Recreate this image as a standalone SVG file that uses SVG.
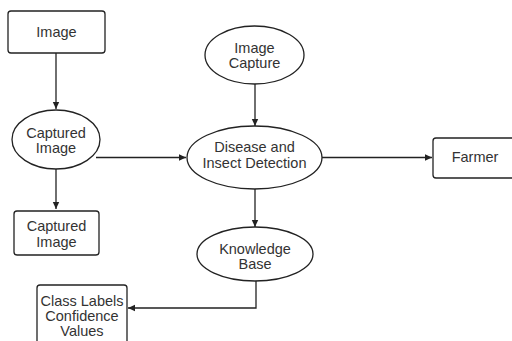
<svg xmlns="http://www.w3.org/2000/svg" width="512" height="341" viewBox="0 0 512 341">
<style>
.n{fill:#fff;stroke:#222;stroke-width:1.3}
.t{font-family:"Liberation Sans",Arial,sans-serif;font-size:14.5px;fill:#333;text-anchor:middle}
.c{fill:none;stroke:#222;stroke-width:1.3}
</style>
<defs>
<marker id="a" markerWidth="8" markerHeight="8" refX="7" refY="4" orient="auto" markerUnits="userSpaceOnUse">
<path d="M0,0.8 L7,4 L0,7.2 Z" fill="#222"/>
</marker>
</defs>
<rect width="512" height="341" fill="#fff"/>
<g id="connectors">
<path class="c" d="M56,53 V109" marker-end="url(#a)"/>
<path class="c" d="M56,169 V209" marker-end="url(#a)"/>
<path class="c" d="M96,157.5 H186" marker-end="url(#a)"/>
<path class="c" d="M255,84 V126" marker-end="url(#a)"/>
<path class="c" d="M322,157.5 H432" marker-end="url(#a)"/>
<path class="c" d="M255,189 V227" marker-end="url(#a)"/>
<path class="c" d="M256,281 V308 H128" marker-end="url(#a)"/>
</g>
<g id="image">
<rect class="n" x="8" y="11" width="97" height="42" rx="3"/>
<text class="t" x="56.5" y="37">Image</text>
</g>
<g id="captured-image-ellipse">
<ellipse class="n" cx="56" cy="139.5" rx="44" ry="29.5"/>
<text class="t" x="56" y="137.5">Captured</text>
<text class="t" x="56" y="153">Image</text>
</g>
<g id="captured-image-box">
<rect class="n" x="14" y="211" width="85" height="44" rx="3"/>
<text class="t" x="56.5" y="231">Captured</text>
<text class="t" x="56.5" y="246.5">Image</text>
</g>
<g id="image-capture">
<ellipse class="n" cx="254.5" cy="55" rx="49.5" ry="29"/>
<text class="t" x="254.5" y="52.5">Image</text>
<text class="t" x="254.5" y="68">Capture</text>
</g>
<g id="detection">
<ellipse class="n" cx="254.5" cy="157.5" rx="67.5" ry="31.5"/>
<text class="t" x="254.5" y="151.5">Disease and</text>
<text class="t" x="254.5" y="167.5">Insect Detection</text>
</g>
<g id="farmer">
<rect class="n" x="433" y="138" width="86" height="40" rx="3"/>
<text class="t" x="475" y="161.5">Farmer</text>
</g>
<g id="knowledge-base">
<ellipse class="n" cx="255" cy="254" rx="58" ry="27"/>
<text class="t" x="255" y="254">Knowledge</text>
<text class="t" x="255" y="269">Base</text>
</g>
<g id="class-labels">
<rect class="n" x="37" y="285" width="90" height="70" rx="3"/>
<text class="t" x="82" y="305.5">Class Labels</text>
<text class="t" x="82" y="321">Confidence</text>
<text class="t" x="82" y="336">Values</text>
</g>
</svg>
